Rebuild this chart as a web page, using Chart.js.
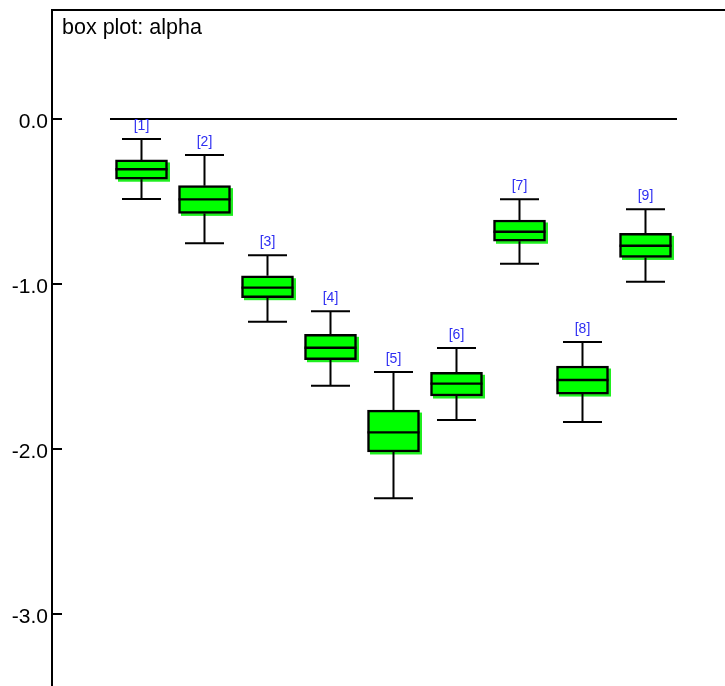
<!DOCTYPE html>
<html>
<head>
<meta charset="utf-8">
<title>box plot: alpha</title>
<script src="https://cdn.jsdelivr.net/npm/chart.js@4/dist/chart.umd.min.js"></script>
<style>
  html, body { margin: 0; padding: 0; background: #ffffff; }
  #wrap { width: 725px; height: 686px; position: relative; }
</style>
</head>
<body>
<div id="wrap"><canvas id="chart"></canvas></div>
<script>
// Groups and their five-number summaries
const categories    = ['[1]', '[2]', '[3]', '[4]', '[5]', '[6]', '[7]', '[8]', '[9]'];
const positions     = [1, 2, 3, 4, 5, 6, 7, 8, 9];
const whiskerHigh   = [-0.121, -0.218, -0.826, -1.165, -1.533, -1.388, -0.487, -1.352, -0.547];
const upperQuartile = [-0.248, -0.404, -0.950, -1.305, -1.764, -1.535, -0.612, -1.497, -0.693];
const medians       = [-0.305, -0.487, -1.022, -1.386, -1.899, -1.604, -0.683, -1.582, -0.768];
const lowerQuartile = [-0.365, -0.572, -1.083, -1.459, -2.018, -1.679, -0.741, -1.667, -0.839];
const whiskerLow    = [-0.485, -0.753, -1.229, -1.617, -2.299, -1.824, -0.877, -1.836, -0.986];

// Reference level line, spanning the group range
const referenceLevel = 0;
const referenceSpan  = [0.5, 9.5];

// Value axis
const yTicks      = [0, -1, -2, -3];
const yTickLabels = ['0.0', '-1.0', '-2.0', '-3.0'];
const chartTitle  = 'box plot: alpha';

const FONT = '"Liberation Sans", Arial, Helvetica, sans-serif';

const boxes = positions.map((p, i) => ({ x: p, y: [lowerQuartile[i], upperQuartile[i]] }));
const refLine = referenceSpan.map(v => ({ x: v, y: referenceLevel }));

function noPadding(scale) {
  scale.paddingTop = 0;
  scale.paddingBottom = 0;
  scale.paddingLeft = 0;
  scale.paddingRight = 0;
}

// Shadow under boxes, whiskers, medians, group labels, inward ticks and title
const boxPlotPlugin = {
  id: 'boxPlot',
  beforeDatasetsDraw(chart) {
    const ctx = chart.ctx;
    const meta = chart.getDatasetMeta(0);
    ctx.save();
    ctx.fillStyle = '#1fee1f';
    meta.data.forEach(bar => {
      const p = bar.getProps(['x', 'y', 'base', 'width'], true);
      const top = Math.min(p.y, p.base);
      const h = Math.abs(p.base - p.y);
      ctx.fillRect(p.x - p.width / 2 + 2.5, top + 2.5, p.width, h);
    });
    ctx.restore();
  },
  afterDatasetsDraw(chart) {
    const { ctx, scales: { x, y } } = chart;
    const meta = chart.getDatasetMeta(0);
    const capHalf = 19.5;
    ctx.save();
    ctx.strokeStyle = '#000000';
    ctx.lineCap = 'butt';
    positions.forEach((p, i) => {
      const cx = x.getPixelForValue(p);
      const yHi = y.getPixelForValue(whiskerHigh[i]);
      const yQ3 = y.getPixelForValue(upperQuartile[i]);
      const yMed = y.getPixelForValue(medians[i]);
      const yQ1 = y.getPixelForValue(lowerQuartile[i]);
      const yLo = y.getPixelForValue(whiskerLow[i]);
      const bw = meta.data[i].width;

      ctx.lineWidth = 2;
      ctx.beginPath();
      ctx.moveTo(cx, yHi); ctx.lineTo(cx, yQ3);
      ctx.moveTo(cx, yQ1); ctx.lineTo(cx, yLo);
      ctx.moveTo(cx - capHalf, yHi); ctx.lineTo(cx + capHalf, yHi);
      ctx.moveTo(cx - capHalf, yLo); ctx.lineTo(cx + capHalf, yLo);
      ctx.stroke();

      ctx.lineWidth = 2.4;
      ctx.beginPath();
      ctx.moveTo(cx - bw / 2, yMed); ctx.lineTo(cx + bw / 2, yMed);
      ctx.stroke();

      ctx.fillStyle = '#2e2ef2';
      ctx.font = '14px ' + FONT;
      ctx.textAlign = 'center';
      ctx.textBaseline = 'middle';
      ctx.fillText(categories[i], cx, yHi - 13);
    });
    ctx.restore();
  },
  afterDraw(chart) {
    const { ctx, chartArea, scales: { y } } = chart;
    ctx.save();
    ctx.strokeStyle = '#000000';
    ctx.lineWidth = 2;
    ctx.beginPath();
    yTicks.forEach(v => {
      const py = Math.round(y.getPixelForValue(v));
      ctx.moveTo(chartArea.left, py);
      ctx.lineTo(chartArea.left + 10, py);
    });
    ctx.stroke();

    ctx.fillStyle = '#000000';
    ctx.font = '21.5px ' + FONT;
    ctx.textAlign = 'left';
    ctx.textBaseline = 'alphabetic';
    ctx.fillText(chartTitle, chartArea.left + 10, chartArea.top + 23.5);
    ctx.restore();
  }
};

new Chart(document.getElementById('chart'), {
  data: {
    datasets: [
      {
        type: 'bar',
        data: boxes,
        backgroundColor: '#00ff00',
        borderColor: '#000000',
        borderWidth: 2.5,
        borderSkipped: false,
        barThickness: 52,
        order: 1
      },
      {
        type: 'line',
        data: refLine,
        borderColor: '#000000',
        borderWidth: 2,
        pointRadius: 0,
        fill: false,
        order: 2
      }
    ]
  },
  options: {
    responsive: true,
    maintainAspectRatio: false,
    animation: false,
    events: [],
    layout: { padding: 0 },
    plugins: {
      legend: { display: false },
      tooltip: { enabled: false },
      title: { display: false }
    },
    scales: {
      x: {
        type: 'linear',
        position: 'top',
        offset: false,
        min: -0.4206,
        max: 10.262,
        grid: { display: false, drawTicks: false },
        ticks: { display: false },
        border: { display: true, color: '#000000', width: 2 },
        afterFit(scale) { scale.height = 10; noPadding(scale); }
      },
      y: {
        type: 'linear',
        position: 'left',
        min: -3.4364,
        max: 0.6606,
        grid: { display: false, drawTicks: false },
        border: { display: true, color: '#000000', width: 2 },
        afterBuildTicks(scale) { scale.ticks = yTicks.map(v => ({ value: v })); },
        ticks: {
          padding: 4,
          labelOffset: 3,
          color: '#000000',
          font: { family: FONT, size: 21 },
          callback(value) {
            const i = yTicks.indexOf(value);
            return i >= 0 ? yTickLabels[i] : '';
          }
        },
        afterFit(scale) { scale.width = 52; noPadding(scale); }
      }
    }
  },
  plugins: [boxPlotPlugin]
});
</script>
</body>
</html>
